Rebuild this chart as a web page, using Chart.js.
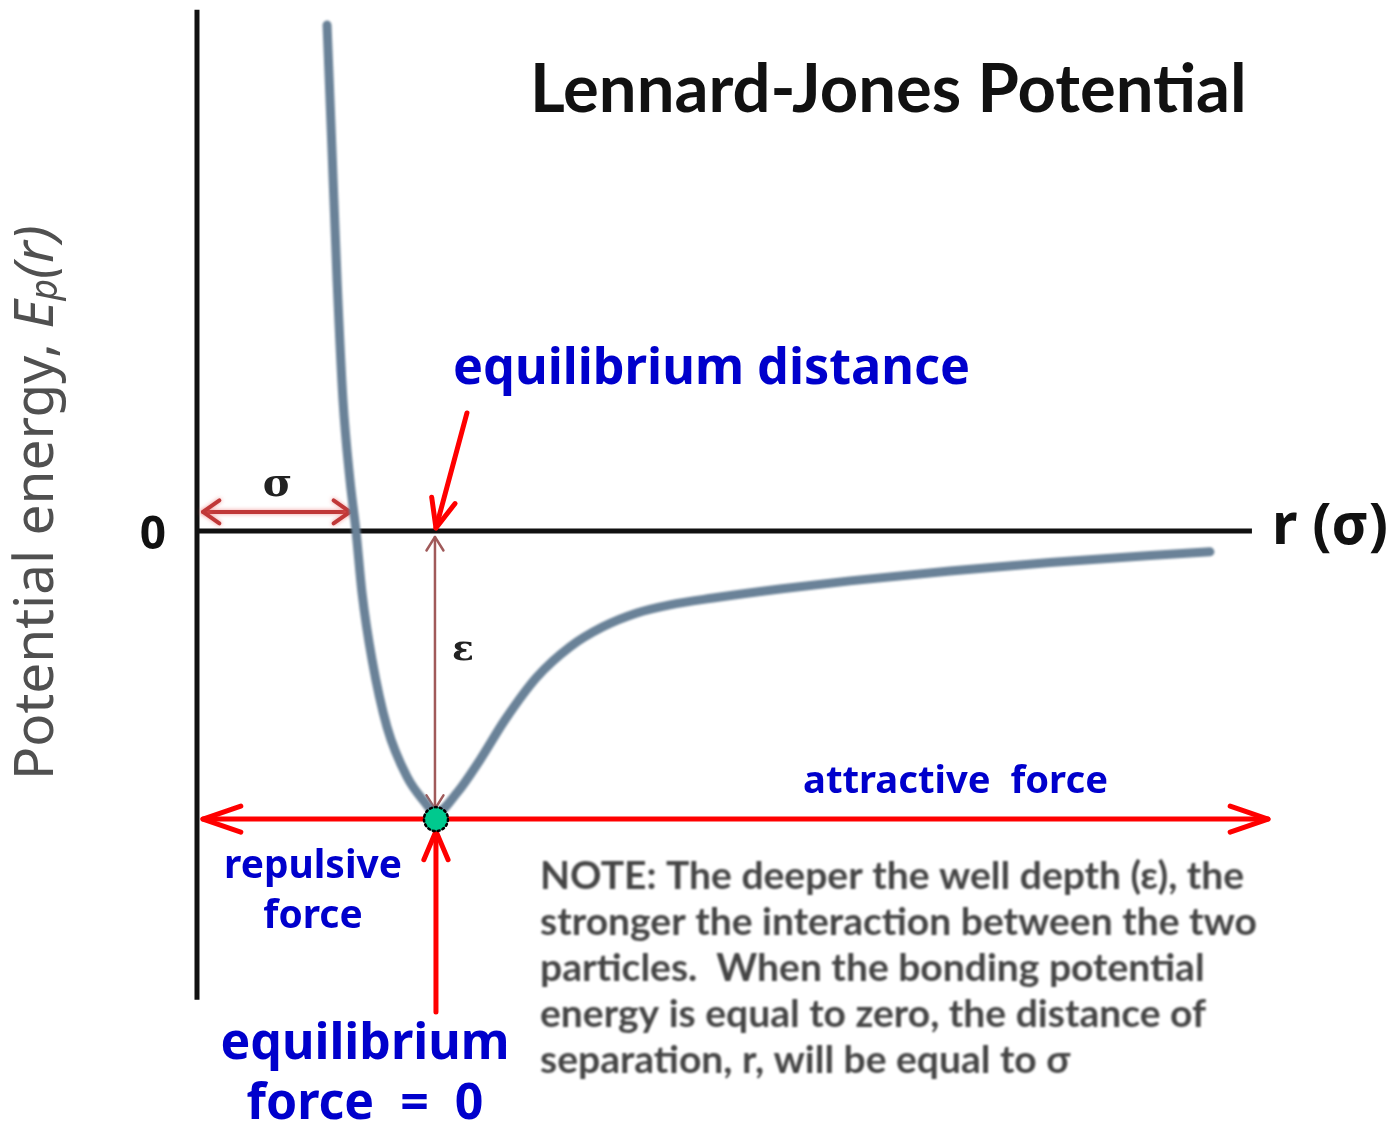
<!DOCTYPE html>
<html>
<head>
<meta charset="utf-8">
<title>Lennard-Jones Potential</title>
<script src="https://cdn.jsdelivr.net/npm/chart.js@4.4.1/dist/chart.umd.min.js"></script>
<style>
  html, body { margin: 0; padding: 0; background: #fff; }
  #wrap { width: 1399px; height: 1129px; }
</style>
</head>
<body>
<div id="wrap"><canvas id="lj" width="1399" height="1129"></canvas></div>
<script>
// separation r, in units of sigma
const rValues = [0.818, 0.849, 0.881, 0.918, 0.962, 1.000, 1.038, 1.101, 1.195, 1.321, 1.421, 1.503,
                 1.635, 1.780, 1.937, 2.138, 2.346, 2.553, 2.767, 2.975, 3.245, 3.667, 4.107, 4.736,
                 5.365, 5.994, 6.371];
// potential energy Ep(r), in units of the well depth epsilon
const energyValues = [1.794, 1.351, 0.890, 0.465, 0.181, 0.000, -0.220, -0.457, -0.695, -0.872, -0.954, -1.000,
                      -0.929, -0.812, -0.670, -0.518, -0.411, -0.340, -0.291, -0.262, -0.238, -0.206, -0.177, -0.142,
                      -0.112, -0.087, -0.074];

const sigmaR = 1.0;          // where Ep crosses zero
const equilibriumR = 1.503;  // bottom of the well
const wellDepth = -1.0;      // -epsilon
const noteLines = [
  'NOTE: The deeper the well depth (\u03b5), the',
  'stronger the interaction between the two',
  'particles.  When the bonding potential',
  'energy is equal to zero, the distance of',
  'separation, r, will be equal to \u03c3'
];

const BLUE = '#0000cc';
const RED = '#ff0000';

// font size that makes text span the given width
function fitSize(ctx, text, font, width) {
  ctx.font = font.replace('{s}', '100px');
  return 100 * width / ctx.measureText(text).width;
}

function text(ctx, str, x, y, o) {
  const size = o.width ? fitSize(ctx, str, o.font, o.width) : o.size;
  ctx.font = o.font.replace('{s}', size.toFixed(2) + 'px');
  ctx.fillStyle = o.color;
  ctx.textAlign = o.align || 'left';
  ctx.textBaseline = 'middle';
  ctx.fillText(str, x, y);
  return size;
}

function chevron(ctx, tx, ty, fx, fy, len, deg) {
  const a = Math.atan2(ty - fy, tx - fx);
  const d = deg * Math.PI / 180;
  ctx.beginPath();
  ctx.moveTo(tx - len * Math.cos(a - d), ty - len * Math.sin(a - d));
  ctx.lineTo(tx, ty);
  ctx.lineTo(tx - len * Math.cos(a + d), ty - len * Math.sin(a + d));
  ctx.stroke();
}

function arrow(ctx, x1, y1, x2, y2, o) {
  ctx.strokeStyle = o.color;
  ctx.lineWidth = o.width;
  ctx.lineCap = 'round';
  ctx.lineJoin = 'round';
  ctx.beginPath();
  ctx.moveTo(x1, y1);
  ctx.lineTo(x2, y2);
  ctx.stroke();
  chevron(ctx, x2, y2, x1, y1, o.head, o.angle);
  if (o.both) chevron(ctx, x1, y1, x2, y2, o.head, o.angle);
}

const diagram = {
  id: 'diagram',
  beforeDatasetsDraw(chart) {
    const { ctx, scales: { x, y } } = chart;
    const x0 = x.getPixelForValue(0);
    const y0 = y.getPixelForValue(0);
    const xs = x.getPixelForValue(sigmaR);
    const xe = x.getPixelForValue(equilibriumR);
    const yw = y.getPixelForValue(wellDepth);

    ctx.save();
    ctx.fillStyle = '#fff';
    ctx.fillRect(0, 0, chart.width, chart.height);
    ctx.filter = 'blur(0.7px)';

    // axes
    ctx.strokeStyle = '#111';
    ctx.lineWidth = 5;
    ctx.lineCap = 'butt';
    ctx.beginPath();
    ctx.moveTo(x0, y.getPixelForValue(1.848));
    ctx.lineTo(x0, y.getPixelForValue(-1.663));
    ctx.moveTo(x0, y0);
    ctx.lineTo(x.getPixelForValue(6.635), y0);
    ctx.stroke();

    text(ctx, '0', x0 - 44, y0 + 5, { font: 'bold {s} "Noto Sans"', size: 46, color: '#111', align: 'center' });
    text(ctx, 'r (\u03c3)', x.getPixelForValue(6.635) + 20, y0 - 3,
         { font: 'bold {s} "Noto Sans"', width: 116, color: '#111' });

    // title
    text(ctx, 'Lennard-Jones Potential', 530, 90,
         { font: 'bold {s} Lato', width: 717, color: '#111' });

    // sigma span
    ctx.shadowColor = 'rgba(230,90,90,0.6)';
    ctx.shadowBlur = 4;
    arrow(ctx, x0 + 6, y0 - 19, xs - 6, y0 - 19,
          { color: '#c03838', width: 4, head: 20, angle: 35, both: true });
    ctx.shadowBlur = 0;
    text(ctx, '\u03c3', (x0 + xs) / 2 + 1, y0 - 45,
         { font: 'bold {s} "DejaVu Serif"', size: 40, color: '#222', align: 'center' });

    // epsilon depth
    arrow(ctx, xe - 1, y0 + 6, xe - 1, yw - 4,
          { color: '#a05a5a', width: 2.5, head: 16, angle: 32, both: true });
    text(ctx, '\u03b5', xe + 27, y0 + 120,
         { font: 'bold {s} "DejaVu Serif"', size: 36, color: '#222', align: 'center' });

    // note
    ctx.filter = 'blur(1px)';
    const noteFont = 'bold {s} Lato';
    const noteSize = fitSize(ctx, noteLines[1], noteFont, 717);
    noteLines.forEach((line, i) => {
      text(ctx, line, 540, 876 + i * 46.2, { font: noteFont, size: noteSize, color: '#454545' });
    });
    ctx.filter = 'none';

    // vertical axis title
    ctx.translate(37, 780);
    ctx.rotate(-Math.PI / 2);
    ctx.fillStyle = '#505050';
    ctx.textBaseline = 'middle';
    ctx.textAlign = 'left';
    const parts = [
      ['Potential energy, ', '', 1, 0],
      ['E', 'italic ', 1, 0],
      ['p', 'italic ', 0.68, 9],
      ['(r)', 'italic ', 1, 0]
    ];
    const measure = s => parts.reduce((w, p) => {
      ctx.font = p[1] + (s * p[2]) + 'px "Noto Sans"';
      return w + ctx.measureText(p[0]).width;
    }, 0);
    const ys = 100 * 555 / measure(100);
    let cx = 0;
    parts.forEach(p => {
      ctx.font = p[1] + (ys * p[2]) + 'px "Noto Sans"';
      ctx.fillText(p[0], cx, p[3]);
      cx += ctx.measureText(p[0]).width;
    });
    ctx.restore();
  },
  beforeDatasetDraw(chart) {
    chart.ctx.save();
    chart.ctx.filter = 'blur(0.9px)';
  },
  afterDatasetDraw(chart) {
    chart.ctx.restore();
  },
  afterDatasetsDraw(chart) {
    const { ctx, scales: { x, y } } = chart;
    const x0 = x.getPixelForValue(0);
    const y0 = y.getPixelForValue(0);
    const xe = x.getPixelForValue(equilibriumR);
    const yf = y.getPixelForValue(wellDepth - 0.022);

    ctx.save();
    // forces
    arrow(ctx, x0 + 6, yf, x.getPixelForValue(6.736), yf,
          { color: RED, width: 5, head: 40, angle: 19, both: true });
    arrow(ctx, xe, 1012, xe, yf + 12,
          { color: RED, width: 5, head: 31, angle: 23 });
    arrow(ctx, xe + 31, y0 - 118, xe, y0 - 3,
          { color: RED, width: 5, head: 31, angle: 23 });

    // equilibrium point
    ctx.beginPath();
    ctx.arc(xe, yf, 12, 0, Math.PI * 2);
    ctx.fillStyle = '#00c98e';
    ctx.fill();
    ctx.setLineDash([2, 3]);
    ctx.lineWidth = 2.5;
    ctx.strokeStyle = '#000';
    ctx.stroke();
    ctx.setLineDash([]);

    const f = 'bold {s} "Noto Sans"';
    text(ctx, 'equilibrium distance', 453, 370, { font: f, width: 517, color: BLUE });
    text(ctx, 'attractive  force', 803, 782, { font: f, width: 305, color: BLUE });
    const rs = text(ctx, 'repulsive', 313, 867, { font: f, width: 178, color: BLUE, align: 'center' });
    text(ctx, 'force', 313, 917, { font: f, size: rs, color: BLUE, align: 'center' });
    const es = text(ctx, 'equilibrium', 365, 1045, { font: f, width: 289, color: BLUE, align: 'center' });
    text(ctx, 'force  =  0', 365, 1105, { font: f, size: es, color: BLUE, align: 'center' });
    ctx.restore();
  }
};

new Chart(document.getElementById('lj'), {
  type: 'scatter',
  data: {
    datasets: [{
      data: rValues.map((r, i) => ({ x: r, y: energyValues[i] })),
      showLine: true,
      borderColor: '#6a8298',
      borderWidth: 9,
      borderCapStyle: 'round',
      cubicInterpolationMode: 'monotone',
      pointRadius: 0,
      fill: false
    }]
  },
  options: {
    responsive: false,
    devicePixelRatio: 1,
    animation: false,
    layout: { padding: 0 },
    plugins: { legend: { display: false }, tooltip: { enabled: false } },
    scales: {
      x: { type: 'linear', min: -1.239, max: 7.560, display: false },
      y: { type: 'linear', min: -2.121, max: 1.883, display: false }
    }
  },
  plugins: [diagram]
});
</script>
</body>
</html>
